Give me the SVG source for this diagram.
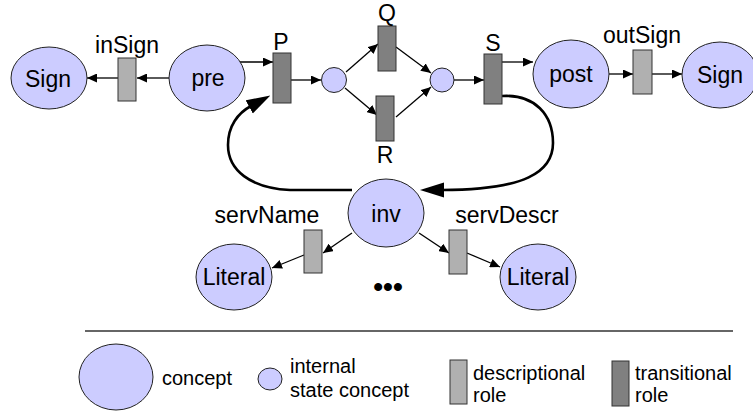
<svg xmlns="http://www.w3.org/2000/svg" width="753" height="414" viewBox="0 0 753 414">
<style>
.c{fill:#ccccff;stroke:#222;stroke-width:1}
.d{fill:#b0b0b0;stroke:#333;stroke-width:1}
.t{fill:#808080;stroke:#333;stroke-width:1}
.e{stroke:#000;stroke-width:1.3;fill:none;marker-end:url(#a)}
.L{stroke:#000;stroke-width:2.6;fill:none;marker-end:url(#b)}
text{font-family:"Liberation Sans",Arial,sans-serif;fill:#000}
.n{font-size:23px;text-anchor:middle}
.g{font-size:20px}
</style>
<defs>
<marker id="a" markerUnits="userSpaceOnUse" markerWidth="11" markerHeight="9" refX="10" refY="4.5" orient="auto"><path d="M0,0 L10,4.5 L0,9 z" fill="#000"/></marker>
<marker id="b" markerUnits="userSpaceOnUse" markerWidth="24" markerHeight="16" refX="2" refY="7.5" orient="auto"><path d="M0,0 L24,7.5 L0,15 z" fill="#000"/></marker>
</defs>
<g id="connectors">
<line class="e" x1="169" y1="78" x2="137" y2="78"/>
<line class="e" x1="118" y1="78" x2="87" y2="78"/>
<line class="e" x1="240" y1="62" x2="273" y2="62"/>
<line class="e" x1="291" y1="80" x2="321" y2="80"/>
<line class="e" x1="346" y1="72" x2="378" y2="44"/>
<line class="e" x1="345" y1="88" x2="377" y2="115"/>
<line class="e" x1="396" y1="47" x2="431" y2="73"/>
<line class="e" x1="396" y1="117" x2="431" y2="87"/>
<line class="e" x1="454" y1="80" x2="484" y2="80"/>
<line class="e" x1="502" y1="62" x2="533" y2="62"/>
<line class="e" x1="609" y1="74" x2="633" y2="74"/>
<line class="e" x1="652" y1="74" x2="682" y2="74"/>
<line class="e" x1="352" y1="233" x2="323" y2="253"/>
<line class="e" x1="304" y1="255" x2="272" y2="268"/>
<line class="e" x1="419" y1="233" x2="449" y2="253"/>
<line class="e" x1="467" y1="253" x2="500" y2="267"/>
<path class="L" d="M502,96 C535,94 553,115 553,143 C553,172 525,190 442,190"/>
<path class="L" d="M352,190 L290,190 C250,188 228,170 228,145 C228,126 238,113 251,106"/>
<line x1="85" y1="331" x2="733" y2="331" stroke="#333" stroke-width="1.3"/>
</g>
<g id="sign1"><ellipse class="c" cx="49" cy="78" rx="38" ry="31"/><text class="n" x="48" y="87">Sign</text></g>
<g id="inSign"><rect class="d" x="118" y="58" width="18" height="43"/><text class="n" x="127" y="53">inSign</text></g>
<g id="pre"><ellipse class="c" cx="207" cy="78" rx="38" ry="33"/><text class="n" x="208" y="86">pre</text></g>
<g id="P"><rect class="t" x="273" y="53" width="18" height="50"/><text class="n" x="281" y="50">P</text></g>
<g id="s1"><circle class="c" cx="334" cy="80" r="12.5"/></g>
<g id="Q"><rect class="t" x="378" y="26" width="18" height="45"/><text class="n" x="387" y="21">Q</text></g>
<g id="R"><rect class="t" x="376" y="96" width="18" height="45"/><text class="n" x="385" y="163">R</text></g>
<g id="s2"><circle class="c" cx="442" cy="80" r="12"/></g>
<g id="S"><rect class="t" x="484" y="54" width="18" height="50"/><text class="n" x="493" y="51">S</text></g>
<g id="post"><ellipse class="c" cx="571" cy="74" rx="38" ry="34"/><text class="n" x="571" y="82">post</text></g>
<g id="outSign"><rect class="d" x="633" y="50" width="19" height="44"/><text class="n" x="642" y="43">outSign</text></g>
<g id="sign2"><ellipse class="c" cx="720" cy="75" rx="38" ry="33"/><text class="n" x="720" y="83">Sign</text></g>
<g id="inv"><ellipse class="c" cx="386" cy="213" rx="38" ry="34"/><text class="n" x="386" y="222">inv</text></g>
<g id="servName"><rect class="d" x="304" y="230" width="18" height="43"/><text class="n" x="267" y="223">servName</text></g>
<g id="servDescr"><rect class="d" x="449" y="230" width="18" height="44"/><text class="n" x="507" y="223">servDescr</text></g>
<g id="literal1"><ellipse class="c" cx="234" cy="277" rx="38" ry="33"/><text class="n" x="234" y="285">Literal</text></g>
<g id="literal2"><ellipse class="c" cx="538" cy="277" rx="38" ry="33"/><text class="n" x="538" y="285">Literal</text></g>
<g id="dots"><text class="n" x="388" y="296" style="font-size:28px;font-weight:bold">•••</text></g>
<g id="legend">
<ellipse class="c" cx="116" cy="377" rx="37" ry="33"/><text class="g" x="162" y="385">concept</text>
<ellipse class="c" cx="270" cy="379" rx="12" ry="11"/><text class="g" x="290" y="373">internal</text><text class="g" x="290" y="397">state concept</text>
<rect class="d" x="450" y="360" width="17" height="44"/><text class="g" x="473" y="380">descriptional</text><text class="g" x="473" y="402">role</text>
<rect class="t" x="612" y="361" width="17" height="45"/><text class="g" x="635" y="380">transitional</text><text class="g" x="635" y="402">role</text>
</g>
</svg>
